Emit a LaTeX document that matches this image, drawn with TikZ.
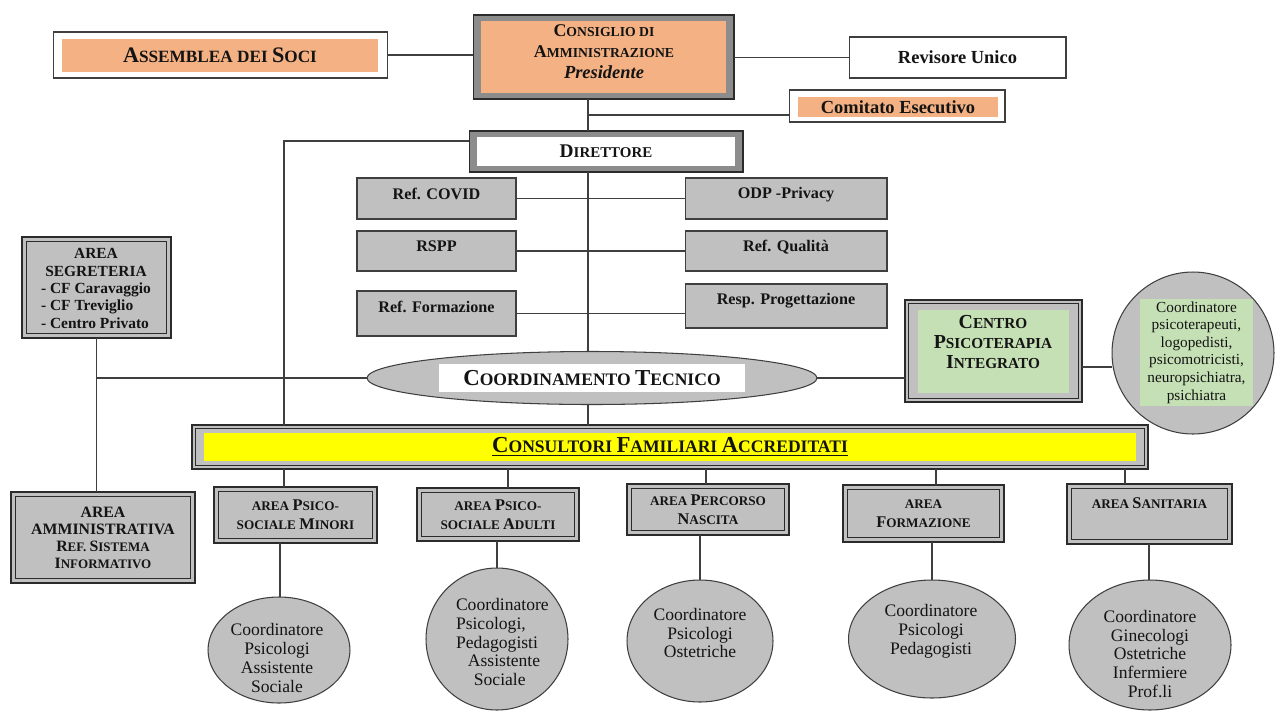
\documentclass[tikz,border=0pt]{standalone}
\usepackage{fontspec}
\setmainfont{Liberation Serif}
\usetikzlibrary{shapes.geometric,calc}
\definecolor{orangeC}{HTML}{F4B183}
\definecolor{grayF}{HTML}{C0C0C0}
\definecolor{bandC}{HTML}{8C8C8C}
\definecolor{lineC}{HTML}{3F3F3F}
\definecolor{darkC}{HTML}{2B2B2B}
\definecolor{yellowC}{HTML}{FFFF00}
\definecolor{greenC}{HTML}{C5E0B4}
\definecolor{txtC}{HTML}{141414}
\newcommand\bigsz{10}
\newcommand\Bg[1]{{\fontsize{\bigsz}{\bigsz}\selectfont #1}}
\newcommand\fsz[2]{\fontsize{#1}{#2}\selectfont}
\begin{document}
\begin{tikzpicture}[x=0.02cm,y=-0.02cm,
  every node/.style={inner sep=0pt, outer sep=0pt, text=txtC},
  ln/.style={draw=lineC, line width=0.6pt},
  ins/.style n args={3}{path picture={\fill[#1] ([shift={(#2,#3)}]path picture bounding box.south west) rectangle ([shift={(-#2,-#3)}]path picture bounding box.north east);}},
  frameA/.style={rectangle, fill=bandC, draw=darkC, line width=0.6pt},
  frameC/.style n args={3}{rectangle, fill=grayF, draw=darkC, line width=0.7pt,
     path picture={\draw[darkC,line width=0.5pt] ([shift={(1.8pt,1.8pt)}]path picture bounding box.south west) rectangle ([shift={(-1.8pt,-1.8pt)}]path picture bounding box.north east);
     \fill[#1] ([shift={(#2,#3)}]path picture bounding box.south west) rectangle ([shift={(-#2,-#3)}]path picture bounding box.north east);}},
  dblbox/.style={rectangle, fill=grayF, draw=darkC, line width=1.1pt,
     path picture={\draw[darkC,line width=0.45pt] ([shift={(2.4pt,2.4pt)}]path picture bounding box.south west) rectangle ([shift={(-2.4pt,-2.4pt)}]path picture bounding box.north east);}},
  abox/.style={dblbox, align=center, font={\bfseries\fsz{7.5}{11}\def\bigsz{9.3}}},
  wbox/.style={rectangle, fill=white, draw=lineC, line width=0.6pt},
  sbox/.style={rectangle, fill=grayF, draw=lineC, line width=0.6pt},
  stxt/.style={font={\bfseries\fsz{9.2}{11}}},
  ell/.style={ellipse, fill=grayF, draw=lineC, line width=0.6pt},
  etxt/.style={align=center, font={\fsz{10}{10.8}}}
]
\useasboundingbox[fill=white] (0,0) rectangle (1275,711);

% top row
\node[wbox, minimum width=6.70cm, minimum height=0.92cm] (asm) at (220.5,55) {};
\node[fill=orangeC, minimum width=6.32cm, minimum height=0.66cm, font={\bfseries\fsz{9.8}{12}\def\bigsz{12.6}}] (asm-in) at (220,55.5) {\Bg{A}SSEMBLEA DEI \Bg{S}OCI};

\node[frameA, ins={orangeC}{4.5pt}{3.4pt}, minimum width=5.22cm, minimum height=1.68cm] (cons) at (603.5,57) {};
\node[align=center, font={\bfseries\fsz{7.8}{11.9}\def\bigsz{10.2}}] (cons-t) at (604,52) {\Bg{C}ONSIGLIO DI\\\Bg{A}MMINISTRAZIONE\\{\itshape\fsz{10.5}{11.9}Presidente}};

\node[wbox, minimum width=4.34cm, minimum height=0.82cm, font={\bfseries\fsz{10.5}{12}}] (rev) at (957.5,57.5) {Revisore Unico};

\node[wbox, minimum width=4.32cm, minimum height=0.64cm] (com) at (897,106) {};
\node[fill=orangeC, minimum width=4.0cm, minimum height=0.40cm, font={\bfseries\fsz{10.5}{12}}] (com-in) at (898,107) {Comitato Esecutivo};

\node[frameA, ins={white}{4.3pt}{3.4pt}, minimum width=5.48cm, minimum height=0.82cm, font={\bfseries\fsz{8.5}{10}\def\bigsz{11}}] (dir) at (606,151.5) {\Bg{D}IRETTORE};

% staff boxes
\node[sbox, minimum width=3.18cm, minimum height=0.82cm] (covid) at (436.5,198.5) {};
\node[stxt] (covid-t) at (436.5,194) {Ref. COVID};
\node[sbox, minimum width=4.04cm, minimum height=0.82cm] (odp) at (786,198.5) {};
\node[stxt] (odp-t) at (786,195) {ODP -Privacy};
\node[sbox, minimum width=3.18cm, minimum height=0.80cm] (rspp) at (436.5,251) {};
\node[stxt] (rspp-t) at (436.5,246) {RSPP};
\node[sbox, minimum width=4.04cm, minimum height=0.80cm] (qual) at (786,251) {};
\node[stxt] (qual-t) at (786,247) {Ref. Qualità};
\node[sbox, minimum width=3.18cm, minimum height=0.90cm] (rform) at (436.5,313.5) {};
\node[stxt] (rform-t) at (436.5,307) {Ref. Formazione};
\node[sbox, minimum width=4.04cm, minimum height=0.88cm] (rprog) at (786,306) {};
\node[stxt] (rprog-t) at (786,301) {Resp. Progettazione};

% coordinamento
\node[ell, minimum width=9cm, minimum height=1.06cm] (ct) at (592,378) {};
\node[fill=white, minimum width=6.12cm, minimum height=0.56cm, font={\bfseries\fsz{10}{12}\def\bigsz{13}}] (ct-t) at (592,378) {\Bg{C}OORDINAMENTO \Bg{T}ECNICO};

% left areas
\node[dblbox, minimum width=2.98cm, minimum height=2.02cm] (seg) at (96.5,287.5) {};
\node[font={\bfseries\fsz{8.8}{9.9}}] (seg-t) at (96,290) {\begin{tabular}{@{}l@{}}\multicolumn{1}{@{}c@{}}{AREA}\\\multicolumn{1}{@{}c@{}}{SEGRETERIA}\\- CF Caravaggio\\- CF Treviglio\\- Centro Privato\end{tabular}};

\node[dblbox, minimum width=3.68cm, minimum height=1.82cm] (amm) at (103,537.5) {};
\node[align=center, font={\bfseries\fsz{9}{9.6}\def\bigsz{9}}] (amm-t) at (103,538) {AREA\\AMMINISTRATIVA\\{\fsz{7.4}{9.6}\Bg{R}EF. \Bg{S}ISTEMA}\\{\fsz{7.4}{9.6}\Bg{I}NFORMATIVO}};

% consultori bar
\node[frameC={yellowC}{6.8pt}{4.6pt}, minimum width=19.12cm, minimum height=0.88cm] (cfa) at (670,447) {};
\node[font={\bfseries\fsz{10}{12}\def\bigsz{13}}] (cfa-t) at (670,447) {\underline{\Bg{C}ONSULTORI \Bg{F}AMILIARI \Bg{A}CCREDITATI}};

% centro psicoterapia
\node[frameC={greenC}{7.4pt}{5.4pt}, minimum width=3.54cm, minimum height=2.04cm] (cpi) at (993.5,351) {};
\node[align=center, font={\bfseries\fsz{8.7}{11.3}\def\bigsz{11.3}}] (cpi-t) at (993,342) {\Bg{C}ENTRO\\\Bg{P}SICOTERAPIA\\\Bg{I}NTEGRATO};

\node[circle, fill=grayF, draw=lineC, line width=0.6pt, minimum size=3.24cm] (circ) at (1193,353) {};
\node[fill=greenC, minimum width=2.26cm, minimum height=2.14cm, align=center, font={\fsz{8.7}{10}}] (circ-t) at (1196.5,352.5) {Coordinatore\\psicoterapeuti,\\logopedisti,\\psicomotricisti,\\neuropsichiatra,\\psichiatra};

% bottom areas
\node[abox, minimum width=3.26cm, minimum height=1.12cm] (amin) at (295.5,515) {AREA \Bg{P}SICO-\\SOCIALE \Bg{M}INORI};
\node[abox, minimum width=3.24cm, minimum height=1.06cm] (aadu) at (498,514.5) {AREA \Bg{P}SICO-\\SOCIALE \Bg{A}DULTI};
\node[abox, minimum width=3.24cm, minimum height=1.02cm] (anas) at (708,509.5) {AREA \Bg{P}ERCORSO\\\Bg{N}ASCITA};
\node[abox, minimum width=3.22cm, minimum height=1.14cm] (afor) at (923.5,513.5) {AREA\\\Bg{F}ORMAZIONE};
\node[abox, minimum width=3.30cm, minimum height=1.20cm] (asan) at (1149.5,514) {};
\node[font={\bfseries\fsz{7.5}{11}\def\bigsz{9.3}}] (asan-t) at (1149.5,503) {AREA \Bg{S}ANITARIA};

% bottom ellipses
\node[ell, minimum width=2.84cm, minimum height=2.12cm] (emin) at (279,650) {};
\node[etxt] (emin-t) at (277,658) {Coordinatore\\Psicologi\\Assistente\\Sociale};
\node[ell, minimum width=2.84cm, minimum height=2.84cm] (eadu) at (497,639) {};
\node[etxt, align=left, anchor=west] (eadu-t) at (456,642) {Coordinatore\\Psicologi,\\Pedagogisti\\\hspace*{6.8pt}Assistente\\\hspace*{10.2pt}Sociale};
\node[ell, minimum width=2.92cm, minimum height=2.44cm] (enas) at (700,641) {};
\node[etxt] (enas-t) at (700,633) {Coordinatore\\Psicologi\\Ostetriche};
\node[ell, minimum width=3.34cm, minimum height=2.36cm] (efor) at (932,639) {};
\node[etxt] (efor-t) at (931,631) {Coordinatore\\Psicologi\\Pedagogisti};
\node[ell, minimum width=3.24cm, minimum height=2.60cm] (esan) at (1150,645) {};
\node[etxt] (esan-t) at (1150,654) {Coordinatore\\Ginecologi\\Ostetriche\\Infermiere\\Prof.li};

% helper coordinates
\coordinate (tx) at (588,0);
\coordinate (cj) at (588,115);
\coordinate (lx) at (284,141);
\coordinate (cy) at (1082,367);
\coordinate (b1) at (284,0);
\coordinate (b2) at (508,0);
\coordinate (b3) at (706,0);
\coordinate (b4) at (936,0);
\coordinate (b5) at (1125,0);
\coordinate (d1) at (280,0);
\coordinate (d2) at (497,0);
\coordinate (d3) at (700,0);
\coordinate (d4) at (932,0);
\coordinate (d5) at (1149,0);

% connectors
\draw[ln] (asm.east) -- (asm.east -| cons.west);
\draw[ln] (rev.west -| cons.east) -- (rev.west);
\draw[ln] (cons.south -| tx) -- (dir.north -| tx);
\draw[ln] (cj) -- (cj -| com.west);
\draw[ln] (lx -| dir.west) -- (lx) -- (lx |- cfa.north);
\draw[ln] (dir.south -| tx) -- (ct.north -| tx);
\draw[ln] (ct.south -| tx) -- (cfa.north -| tx);
\draw[ln] (covid.east) -- (covid.east -| odp.west);
\draw[ln] (rspp.east) -- (rspp.east -| qual.west);
\draw[ln] (rform.east) -- (rform.east -| rprog.west);
\draw[ln] (seg.south |- ct.west) -- (ct.west);
\draw[ln] (seg.south) -- (seg.south |- amm.north);
\draw[ln] (ct.east) -- (ct.east -| cpi.west);
\draw[ln] (cpi.east |- cy) -- (circ.west |- cy);
\draw[ln] (cfa.south -| b1) -- (amin.north -| b1);
\draw[ln] (cfa.south -| b2) -- (aadu.north -| b2);
\draw[ln] (cfa.south -| b3) -- (anas.north -| b3);
\draw[ln] (cfa.south -| b4) -- (afor.north -| b4);
\draw[ln] (cfa.south -| b5) -- (asan.north -| b5);
\draw[ln] (amin.south -| d1) -- (emin.north -| d1);
\draw[ln] (aadu.south -| d2) -- (eadu.north -| d2);
\draw[ln] (anas.south -| d3) -- (enas.north -| d3);
\draw[ln] (afor.south -| d4) -- (efor.north -| d4);
\draw[ln] (asan.south -| d5) -- (esan.north -| d5);
\end{tikzpicture}
\end{document}
